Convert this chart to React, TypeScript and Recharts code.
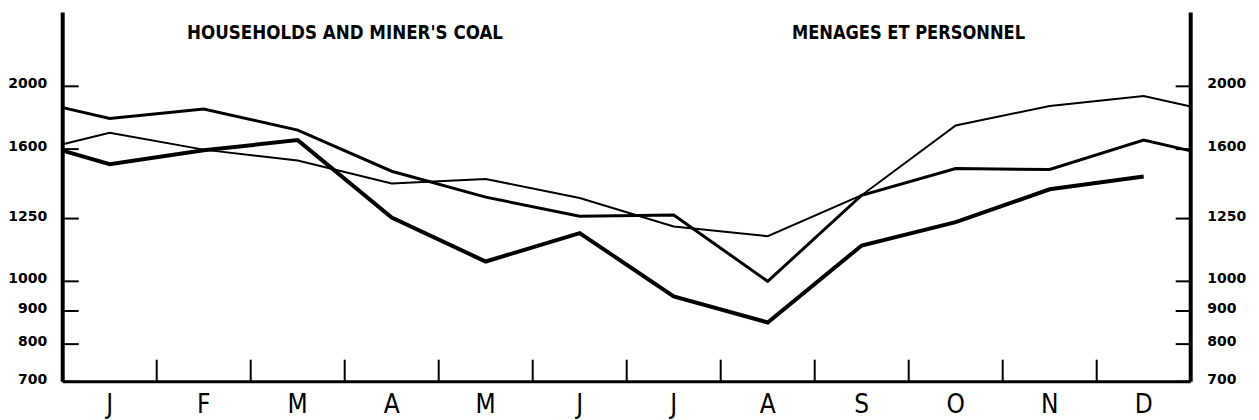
import React from 'react';
import { LineChart, Line, XAxis, YAxis } from 'recharts';

if (typeof document !== 'undefined') document.body.style.margin = '0';

const months = ['J', 'F', 'M', 'A', 'M', 'J', 'J', 'A', 'S', 'O', 'N', 'D'];
// first and last value = where the curve meets the left / right axis
const thinLine = [1628, 1696, 1597, 1536, 1416, 1439, 1345, 1215, 1174, 1358, 1740, 1865, 1932, 1861];
const mediumLine = [1854, 1784, 1845, 1712, 1479, 1349, 1260, 1266, 1000, 1358, 1493, 1488, 1652, 1590];
const thickLine = [1591, 1516, 1593, 1652, 1254, 1073, 1187, 948, 864, 1136, 1234, 1387, 1452, null];
const yTicks = [700, 800, 900, 1000, 1250, 1600, 2000];
const leftTitle = "HOUSEHOLDS AND MINER'S COAL";
const rightTitle = 'MENAGES ET PERSONNEL';

const pos = (i: number) => (i === 0 ? 0 : i === thinLine.length - 1 ? months.length : i - 0.5);

const data = thinLine.map((_, i) => ({
  x: pos(i),
  thin: thinLine[i],
  medium: mediumLine[i],
  thick: thickLine[i],
}));

const xTicks = [
  ...months.map((_, i) => i + 0.5),
  ...months.slice(1).map((_, i) => i + 1),
].sort((a, b) => a - b);

const labelFont = { fontFamily: 'DejaVu Sans', fontWeight: 'bold' as const, fontSize: 14, fill: '#000' };

const MonthTick = (props: any) => {
  const { x, y, payload } = props;
  const v = payload.value;
  if (Number.isInteger(v)) {
    return <line x1={x} x2={x} y1={y} y2={y - 22} stroke="#000" strokeWidth={2} />;
  }
  return (
    <text x={x} y={y + 31} textAnchor="middle" fontFamily="DejaVu Sans Condensed, DejaVu Sans" fontSize={26} fill="#000">
      {months[Math.floor(v)]}
    </text>
  );
};

const LeftTick = (props: any) => {
  const { x, y, payload } = props;
  return (
    <g>
      <line x1={x} x2={x + 16} y1={y} y2={y} stroke="#000" strokeWidth={2} />
      <text x={x - 15.5} y={y + 2} textAnchor="end" {...labelFont}>
        {payload.value}
      </text>
    </g>
  );
};

const RightTick = (props: any) => {
  const { x, y, payload } = props;
  return (
    <g>
      <line x1={x} x2={x - 15} y1={y} y2={y} stroke="#000" strokeWidth={2} />
      <text x={x + 16.5} y={y + 2} textAnchor="start" {...labelFont}>
        {payload.value}
      </text>
    </g>
  );
};

export default function App() {
  return (
    <div style={{ position: 'relative', width: 1259, height: 420, background: '#fff' }}>
      <LineChart width={1259} height={420} data={data} margin={{ top: 12.5, right: 0, left: 0, bottom: 0 }}>
        <XAxis
          dataKey="x"
          type="number"
          domain={[0, 12]}
          ticks={xTicks}
          interval={0}
          height={38.3}
          tickSize={0}
          tickMargin={0}
          tickLine={false}
          axisLine={{ stroke: '#000', strokeWidth: 3 }}
          tick={<MonthTick />}
        />
        <YAxis
          yAxisId="left"
          type="number"
          scale="log"
          domain={[700, 2600]}
          allowDataOverflow
          ticks={yTicks}
          interval={0}
          width={62.7}
          tickSize={0}
          tickMargin={0}
          tickLine={false}
          axisLine={{ stroke: '#000', strokeWidth: 4 }}
          tick={<LeftTick />}
        />
        <YAxis
          yAxisId="right"
          orientation="right"
          type="number"
          scale="log"
          domain={[700, 2600]}
          allowDataOverflow
          ticks={yTicks}
          interval={0}
          width={68.3}
          tickSize={0}
          tickMargin={0}
          tickLine={false}
          axisLine={{ stroke: '#000', strokeWidth: 4 }}
          tick={<RightTick />}
        />
        <Line yAxisId="left" type="linear" dataKey="thin" stroke="#000" strokeWidth={2} dot={false} isAnimationActive={false} />
        <Line yAxisId="left" type="linear" dataKey="medium" stroke="#000" strokeWidth={3} dot={false} isAnimationActive={false} />
        <Line yAxisId="left" type="linear" dataKey="thick" stroke="#000" strokeWidth={4} dot={false} isAnimationActive={false} />
      </LineChart>
      <svg width={1259} height={420} style={{ position: 'absolute', left: 0, top: 0, pointerEvents: 'none' }}>
        <text x={187} y={39} fontFamily="DejaVu Sans" fontWeight="bold" fontSize={19} textLength={316} lengthAdjust="spacingAndGlyphs">
          {leftTitle}
        </text>
        <text x={792} y={39} fontFamily="DejaVu Sans" fontWeight="bold" fontSize={19} textLength={233} lengthAdjust="spacingAndGlyphs">
          {rightTitle}
        </text>
      </svg>
    </div>
  );
}
